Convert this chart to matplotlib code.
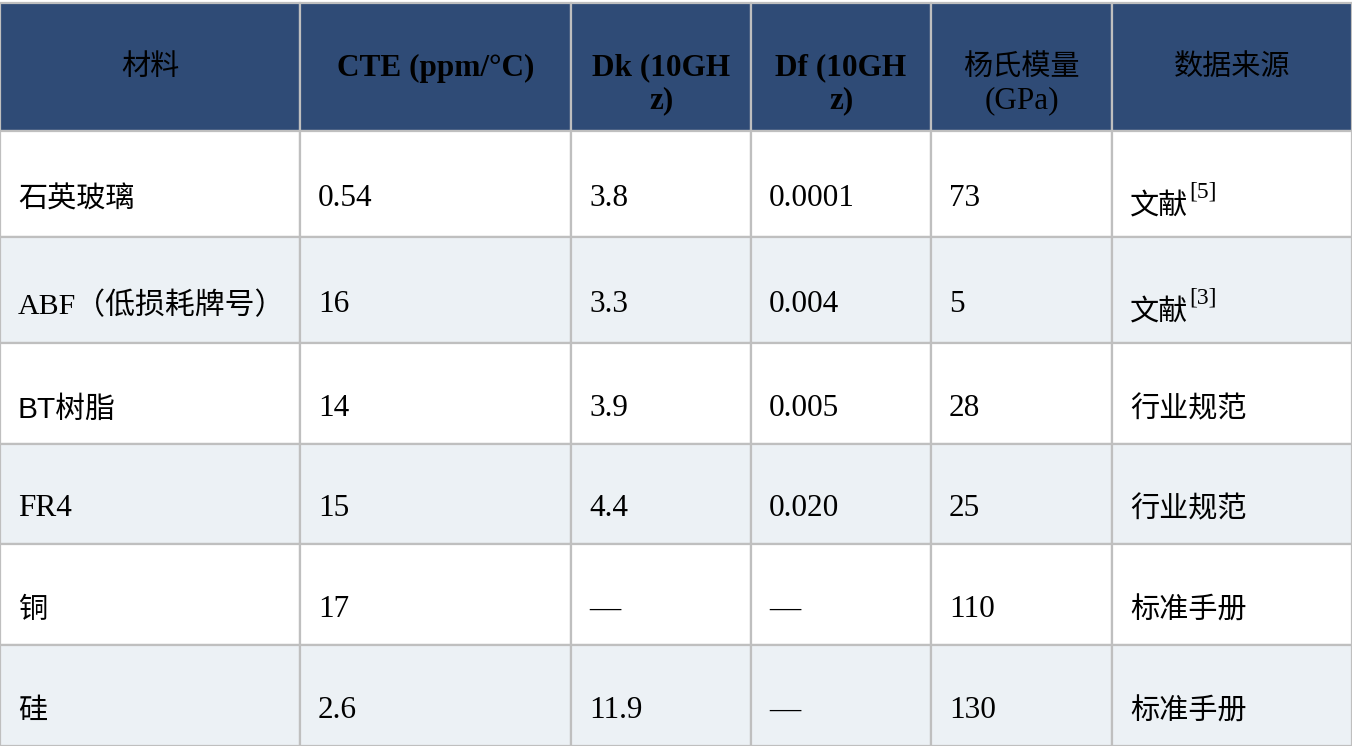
import matplotlib.pyplot as plt
from matplotlib.patches import Rectangle

# table data
headers = ['材料', 'CTE (ppm/°C)', 'Dk (10GH\nz)', 'Df (10GH\nz)', '杨氏模量\n(GPa)', '数据来源']
header_bold = [False, True, True, True, False, False]
materials = ['石英玻璃', 'ABF（低损耗牌号）', 'BT树脂', 'FR4', '铜', '硅']
cte = ['0.54', '16', '14', '15', '17', '2.6']
dk = ['3.8', '3.3', '3.9', '4.4', '—', '11.9']
df_vals = ['0.0001', '0.004', '0.005', '0.020', '—', '—']
modulus = ['73', '5', '28', '25', '110', '130']
sources = ['文献', '文献', '行业规范', '行业规范', '标准手册', '标准手册']
source_refs = ['[5]', '[3]', '', '', '', '']

# layout in pixels
col_edges = [0, 300, 571, 751, 931, 1112, 1352]
row_edges = [3, 131, 237, 343, 444, 544, 645, 746]
W, H = 1352, 746

header_bg = '#2F4B76'
alt_bg = '#ECF1F5'
grid_col = '#BFBFBF'
serif = ['Liberation Serif', 'Noto Sans CJK SC']


def has_cjk(s):
    return any(ord(ch) > 0x2E80 for ch in s)


def pick_size(s):
    cjk = has_cjk(s)
    latin = any(ch.isascii() and ch.isalnum() for ch in s)
    if cjk and latin:
        return 21.5
    if cjk:
        return 21
    return 22.5


fig = plt.figure(figsize=(W / 100, H / 100), dpi=100)
ax = fig.add_axes([0, 0, 1, 1])
ax.set_xlim(0, W)
ax.set_ylim(H, 0)
ax.axis('off')

columns = [materials, cte, dk, df_vals, modulus, sources]
n_rows = len(materials)

# cell backgrounds
for r in range(n_rows + 1):
    y0, y1 = row_edges[r], row_edges[r + 1]
    if r == 0:
        fc = header_bg
    elif r % 2 == 0:
        fc = alt_bg
    else:
        fc = 'white'
    for c in range(len(headers)):
        x0, x1 = col_edges[c], col_edges[c + 1]
        ax.add_patch(Rectangle((x0, y0), x1 - x0, y1 - y0, facecolor=fc,
                               edgecolor=grid_col, linewidth=1.6))

# header text
for c, h in enumerate(headers):
    xc = (col_edges[c] + col_edges[c + 1]) / 2
    lines = h.split('\n')
    for i, line in enumerate(lines):
        ax.text(xc, 68 + i * 33, line, ha='center', va='center',
                fontsize=pick_size(line) if not header_bold[c] else 22.5,
                family=serif, weight='bold' if header_bold[c] else 'normal',
                color='black')

# body text
src_texts = []
for r in range(n_rows):
    yc = (row_edges[r + 1] + row_edges[r + 2]) / 2 + 15
    for c, col in enumerate(columns):
        x = col_edges[c] + 18
        s = col[r]
        fam = serif
        if s == 'BT树脂':
            fam = ['Liberation Sans', 'Noto Sans CJK SC']
        dy = 1 if has_cjk(s) else 0
        if c == 5:
            t = ax.text(x, yc + dy + (7 if source_refs[r] else 0), s, ha='left',
                        va='center', fontsize=pick_size(s), family=fam, color='black')
            src_texts.append((t, source_refs[r], yc))
        else:
            ax.text(x, yc + dy, s, ha='left', va='center', fontsize=pick_size(s),
                    family=fam, color='black')

# superscript references after the source text
fig.canvas.draw()
renderer = fig.canvas.get_renderer()
for t, ref, yc in src_texts:
    if not ref:
        continue
    bb = t.get_window_extent(renderer)
    x_end = ax.transData.inverted().transform((bb.x1, bb.y0))[0]
    ax.text(x_end + 1, yc - 7, ref, ha='left', va='center', fontsize=17,
            family=serif, color='black')

fig.savefig('out.png', dpi=100)
